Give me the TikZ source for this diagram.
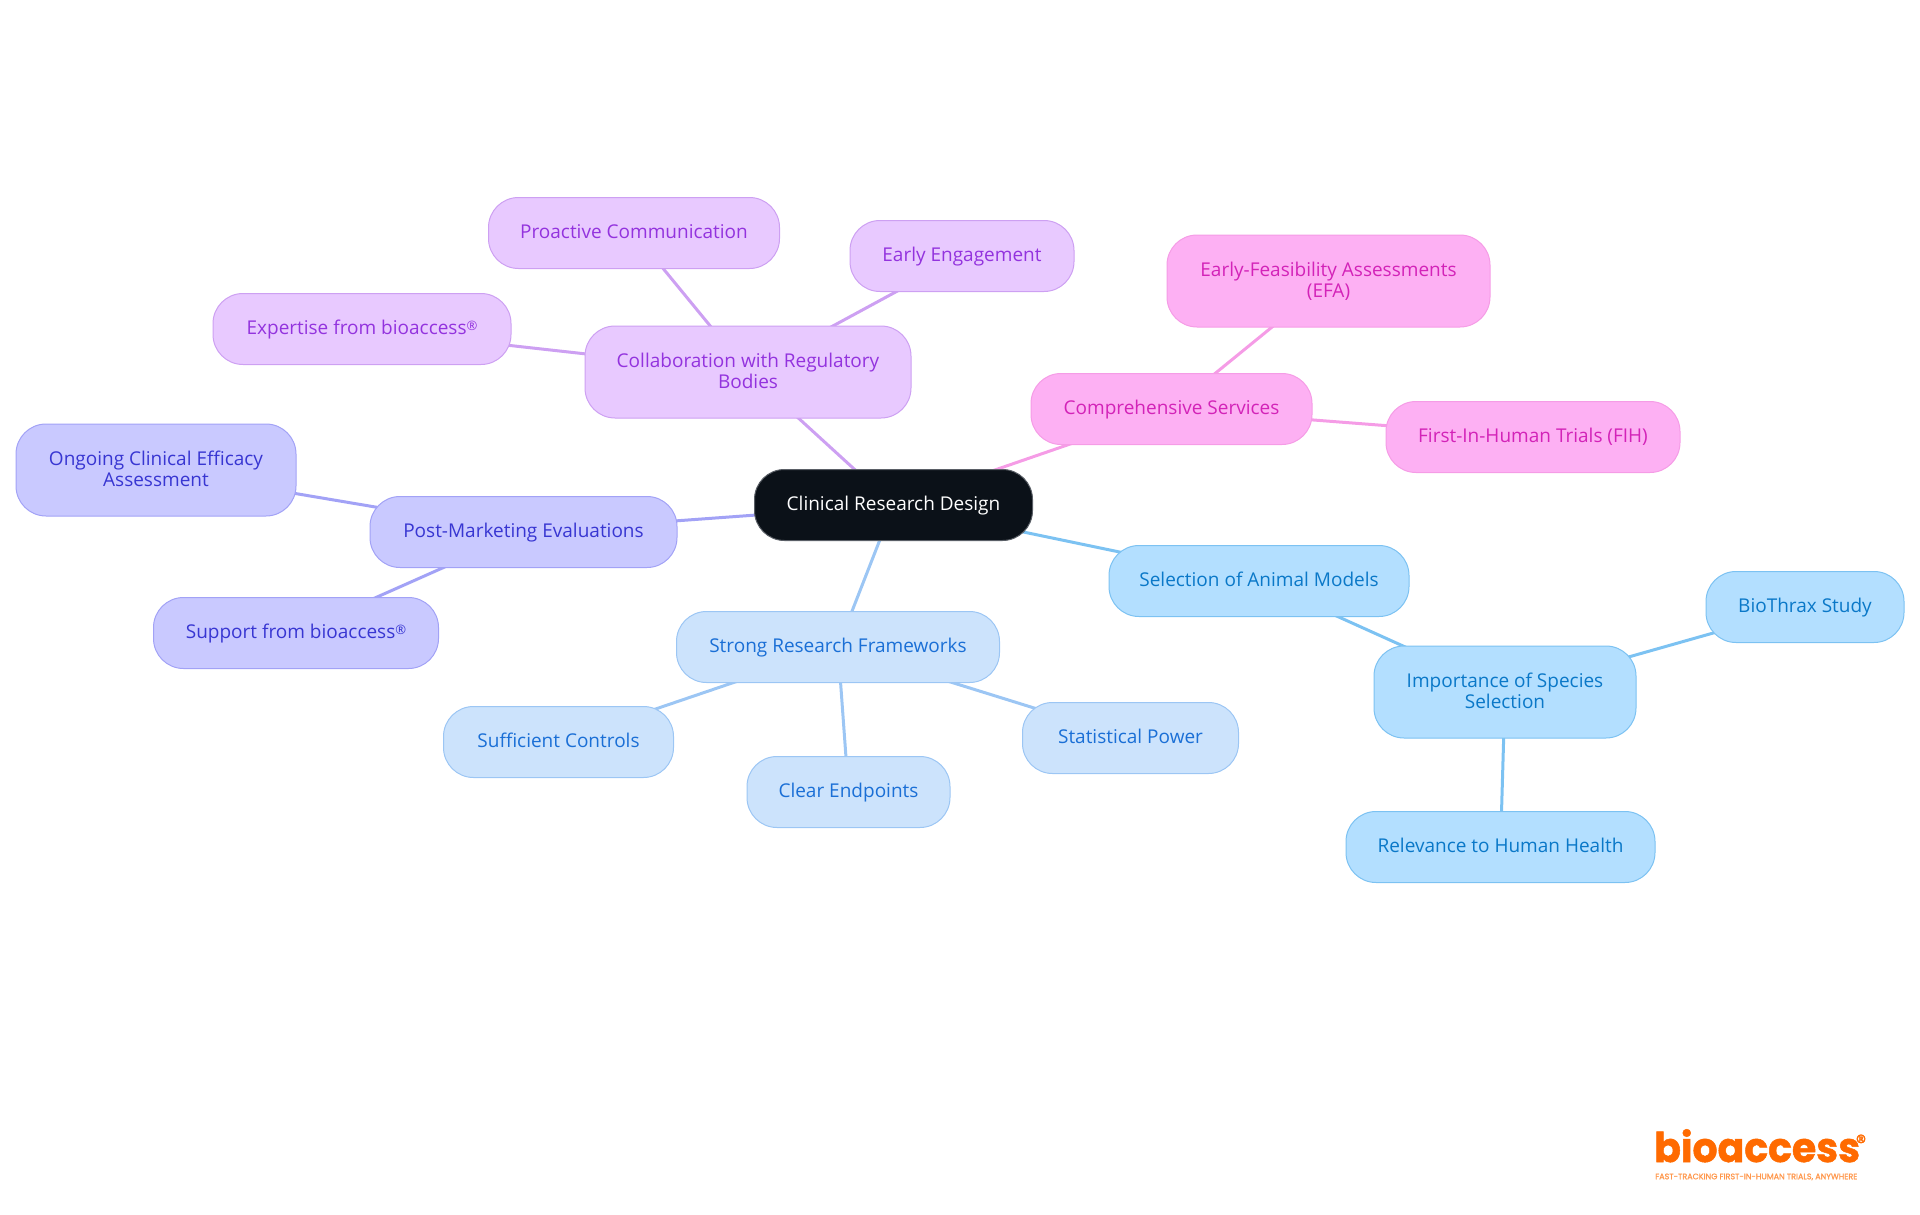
\documentclass[tikz,border=0pt]{standalone}
\usepackage{fontspec}
\usepackage{graphicx}
\setmainfont{Open Sans}
\newfontfamily\logofont[FakeBold=1.2]{Poppins}
\usetikzlibrary{backgrounds}

\definecolor{rootfill}{HTML}{0B1118}
\definecolor{rootline}{HTML}{5A5F66}
\definecolor{bluefill}{HTML}{CCE3FC}
\definecolor{blueline}{HTML}{9CC6F4}
\definecolor{bluetext}{HTML}{1A6FD6}
\definecolor{skyfill}{HTML}{B3DFFF}
\definecolor{skyline}{HTML}{7CC2F2}
\definecolor{skytext}{HTML}{0A78C8}
\definecolor{pinkfill}{HTML}{FDB0F3}
\definecolor{pinkline}{HTML}{F59CE6}
\definecolor{pinktext}{HTML}{D323B8}
\definecolor{lilacfill}{HTML}{E8C9FF}
\definecolor{lilacline}{HTML}{CDA0F2}
\definecolor{lilactext}{HTML}{9333DE}
\definecolor{violetfill}{HTML}{C9C9FF}
\definecolor{violetline}{HTML}{A2A2F6}
\definecolor{violettext}{HTML}{3836D2}
\definecolor{logoorange}{HTML}{FF6A00}

\newcommand{\regmark}{\raisebox{3.5pt}{\fontsize{13}{13}\selectfont ®}}

\tikzset{
  box/.style={draw,rectangle,rounded corners=30pt,line width=1pt,align=center,
    inner sep=0pt,minimum height=71pt,text height=14pt,text depth=4pt,
    font=\fontsize{19}{21}\selectfont},
  root/.style={box,fill=rootfill,draw=rootline,text=white},
  blue/.style={box,fill=bluefill,draw=blueline,text=bluetext},
  sky/.style={box,fill=skyfill,draw=skyline,text=skytext},
  pink/.style={box,fill=pinkfill,draw=pinkline,text=pinktext},
  lilac/.style={box,fill=lilacfill,draw=lilacline,text=lilactext},
  violet/.style={box,fill=violetfill,draw=violetline,text=violettext},
  tall/.style={minimum height=92pt,text height=36pt,text depth=4pt},
}

\begin{document}
\begin{tikzpicture}
  [x=1pt,y=-1pt]
  \useasboundingbox (0,0) rectangle (1920,1215);

  \node[root,minimum width=278pt] (design) at (893.5,505) {Clinical Research Design};

  \node[lilac,tall,minimum width=326pt] (collab) at (748,372) {Collaboration with Regulatory\\Bodies};
  \node[lilac,minimum width=291pt] (proactive) at (634,233) {Proactive Communication};
  \node[lilac,minimum width=224pt] (engage) at (962,256) {Early Engagement};
  \node[lilac,minimum width=298pt] (expertise) at (362,329) {Expertise from bioaccess\regmark};

  \node[violet,minimum width=307pt] (post) at (523.5,532) {Post-Marketing Evaluations};
  \node[violet,tall,minimum width=280pt] (ongoing) at (156,470) {Ongoing Clinical Efficacy\\Assessment};
  \node[violet,minimum width=285pt] (support) at (296,633) {Support from bioaccess\regmark};

  \node[blue,minimum width=323pt] (strong) at (838,647) {Strong Research Frameworks};
  \node[blue,minimum width=230pt] (controls) at (558.5,742) {Sufficient Controls};
  \node[blue,minimum width=203pt] (endpoints) at (848.5,792) {Clear Endpoints};
  \node[blue,minimum width=216pt] (power) at (1130.5,738) {Statistical Power};

  \node[sky,minimum width=300pt] (animal) at (1259,581) {Selection of Animal Models};
  \node[sky,tall,minimum width=262pt] (species) at (1505,692) {Importance of Species\\Selection};
  \node[sky,minimum width=198pt] (biothrax) at (1805,607) {BioThrax Study};
  \node[sky,minimum width=309pt] (health) at (1500.5,847) {Relevance to Human Health};

  \node[pink,minimum width=281pt] (services) at (1171.5,409) {Comprehensive Services};
  \node[pink,tall,minimum width=323pt] (efa) at (1328.5,281) {Early-Feasibility Assessments\\(EFA)};
  \node[pink,minimum width=294pt] (fih) at (1533,437) {First-In-Human Trials (FIH)};

  \begin{scope}[on background layer]
    \foreach \from/\to/\col in {design/collab/lilacline,collab/proactive/lilacline,
        collab/engage/lilacline,collab/expertise/lilacline,
        design/post/violetline,post/ongoing/violetline,post/support/violetline,
        design/strong/blueline,strong/controls/blueline,strong/endpoints/blueline,strong/power/blueline,
        design/animal/skyline,animal/species/skyline,species/biothrax/skyline,species/health/skyline,
        design/services/pinkline,services/efa/pinkline,services/fih/pinkline}
      \draw[\col,line width=3pt] (\from.center) -- (\to.center);
  \end{scope}

  \node[text=logoorange,inner sep=0pt,anchor=base west,font=\logofont\bfseries\fontsize{41}{41}\selectfont] (logo) at (1654,1162) {\scalebox{.96}[1]{bioaccess}};
  \node[text=logoorange,inner sep=0pt,font=\logofont\fontsize{21}{21}\selectfont] (reg) at (1861,1142) {®};
  \node[text=logoorange!70,inner sep=0pt,anchor=west,font=\logofont\fontsize{8}{8}\selectfont] (tagline) at (1655,1177) {FAST-TRACKING FIRST-IN-HUMAN TRIALS, ANYWHERE};
\end{tikzpicture}
\end{document}
